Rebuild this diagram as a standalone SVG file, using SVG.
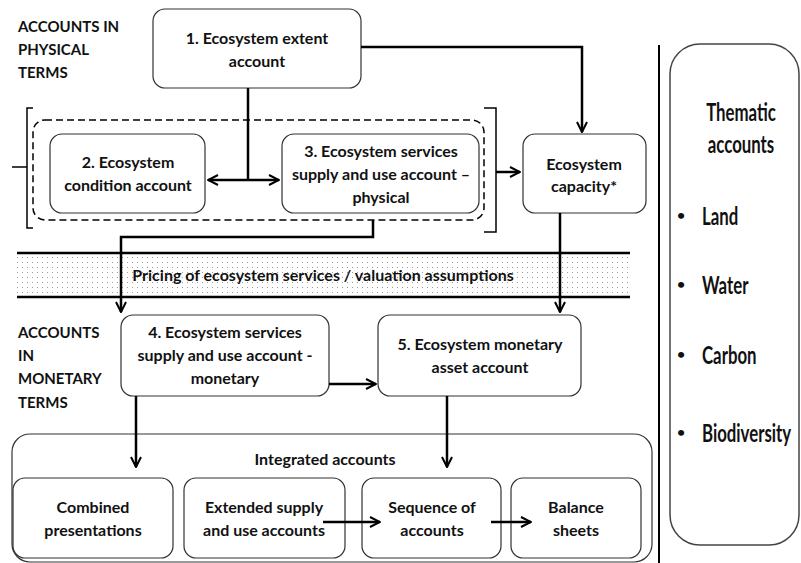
<svg xmlns="http://www.w3.org/2000/svg" width="801" height="563" viewBox="0 0 801 563">
<style>
text{font-family:Lato,"Open Sans","Liberation Sans",sans-serif;font-weight:bold;fill:#111;}
.t{font-size:16px;text-anchor:middle;}
.lbl{font-size:15px;}
.box{fill:#fff;stroke:#333;stroke-width:1.2;}
.c{fill:none;stroke:#000;stroke-width:2.5;}
.th{font-size:24px;font-weight:bold;}
.bu{font-size:14px;font-weight:bold;}
</style>
<defs>
<marker id="ah" viewBox="0 0 10 10" refX="9" refY="5" markerWidth="5" markerHeight="5" orient="auto-start-reverse" markerUnits="strokeWidth">
<path d="M1,1 L9,5 L1,9" fill="none" stroke="#000" stroke-width="1.6"/>
</marker>
<pattern id="dots" width="5" height="5" patternUnits="userSpaceOnUse">
<rect x="2" y="2" width="1" height="1" fill="#999"/>
</pattern>
</defs>

<g id="labels">
<text class="lbl" x="18" y="32">ACCOUNTS IN</text>
<text class="lbl" x="18" y="55">PHYSICAL</text>
<text class="lbl" x="18" y="78">TERMS</text>
<text class="lbl" x="18" y="338">ACCOUNTS</text>
<text class="lbl" x="18" y="361">IN</text>
<text class="lbl" x="18" y="384">MONETARY</text>
<text class="lbl" x="18" y="408">TERMS</text>
</g>

<g id="pricing-band">
<rect x="17" y="254" width="613" height="42" fill="url(#dots)"/>
<line x1="17" y1="253" x2="630" y2="253" stroke="#000" stroke-width="2.5"/>
<line x1="17" y1="297" x2="630" y2="297" stroke="#000" stroke-width="2.5"/>
<text class="t" x="323" y="281">Pricing of ecosystem services / valuation assumptions</text>
</g>

<g id="physical-group">
<rect x="33" y="120" width="451" height="100" rx="12" fill="none" stroke="#000" stroke-width="1.5" stroke-dasharray="7,4"/>
<path d="M33,108 H27 V228 H33 M27,167 H12" fill="none" stroke="#000" stroke-width="1.5"/>
<path d="M484,108 H496 V232 H484" fill="none" stroke="#000" stroke-width="1.5"/>
</g>

<g id="n1">
<rect class="box" x="153" y="9" width="208" height="79" rx="12"/>
<text class="t" x="257" y="44">1. Ecosystem extent</text>
<text class="t" x="257" y="67">account</text>
</g>
<g id="n2">
<rect class="box" x="50" y="134" width="155" height="79" rx="12"/>
<text class="t" x="128" y="168">2. Ecosystem</text>
<text class="t" x="128" y="191">condition account</text>
</g>
<g id="n3">
<rect class="box" x="282" y="134" width="197" height="79" rx="12"/>
<text class="t" x="381" y="157">3. Ecosystem services</text>
<text class="t" x="381" y="180">supply and use account –</text>
<text class="t" x="381" y="203">physical</text>
</g>
<g id="cap">
<rect class="box" x="523" y="134" width="123" height="79" rx="12"/>
<text class="t" x="584" y="170">Ecosystem</text>
<text class="t" x="584" y="192">capacity*</text>
</g>
<g id="n4">
<rect class="box" x="121" y="315" width="208" height="81" rx="12"/>
<text class="t" x="225" y="338">4. Ecosystem services</text>
<text class="t" x="225" y="361">supply and use account -</text>
<text class="t" x="225" y="384">monetary</text>
</g>
<g id="n5">
<rect class="box" x="378" y="315" width="203" height="81" rx="12"/>
<text class="t" x="480" y="350">5. Ecosystem monetary</text>
<text class="t" x="480" y="373">asset account</text>
</g>

<g id="integrated">
<rect class="box" x="12" y="434" width="640" height="128" rx="18"/>
<text class="t" x="325" y="465">Integrated accounts</text>
</g>
<g id="combined">
<rect class="box" x="13" y="478" width="160" height="80" rx="12"/>
<text class="t" x="93" y="513">Combined</text>
<text class="t" x="93" y="536">presentations</text>
</g>
<g id="extended">
<rect class="box" x="184" y="478" width="161" height="80" rx="12"/>
<text class="t" x="264" y="513">Extended supply</text>
<text class="t" x="264" y="536">and use accounts</text>
</g>
<g id="sequence">
<rect class="box" x="362" y="478" width="139" height="80" rx="12"/>
<text class="t" x="432" y="513">Sequence of</text>
<text class="t" x="432" y="536">accounts</text>
</g>
<g id="balance">
<rect class="box" x="511" y="478" width="130" height="80" rx="12"/>
<text class="t" x="576" y="513">Balance</text>
<text class="t" x="576" y="536">sheets</text>
</g>

<g id="thematic">
<line x1="659" y1="45" x2="659" y2="563" stroke="#000" stroke-width="2"/>
<rect x="670" y="44" width="129" height="501" rx="30" fill="#fff" stroke="#444" stroke-width="1.5"/>
<g transform="translate(741,0) scale(0.7,1)">
<text class="th" x="0" y="121" text-anchor="middle">Thematic</text>
<text class="th" x="0" y="153" text-anchor="middle">accounts</text>
</g>
<text class="bu" x="677" y="220">•</text>
<text class="bu" x="677" y="289">•</text>
<text class="bu" x="677" y="359">•</text>
<text class="bu" x="677" y="437">•</text>
<g transform="translate(702,0) scale(0.7,1)">
<text class="th" x="0" y="225">Land</text>
<text class="th" x="0" y="294">Water</text>
<text class="th" x="0" y="364">Carbon</text>
<text class="th" x="0" y="442">Biodiversity</text>
</g>
</g>

<g id="connectors">
<line class="c" x1="248" y1="88" x2="248" y2="180"/>
<line class="c" x1="208" y1="180" x2="279" y2="180" marker-start="url(#ah)" marker-end="url(#ah)"/>
<path class="c" d="M361,47 H582 V132" marker-end="url(#ah)"/>
<line class="c" x1="496" y1="172" x2="520" y2="172" marker-end="url(#ah)"/>
<path class="c" d="M373,220 V237 H121 V312" marker-end="url(#ah)"/>
<line class="c" x1="560" y1="213" x2="560" y2="312" marker-end="url(#ah)"/>
<line class="c" x1="329" y1="384" x2="376" y2="384" marker-end="url(#ah)"/>
<line class="c" x1="136" y1="396" x2="136" y2="467" marker-end="url(#ah)"/>
<line class="c" x1="447" y1="396" x2="447" y2="467" marker-end="url(#ah)"/>
<line class="c" x1="323" y1="522" x2="380" y2="522" marker-end="url(#ah)"/>
<line class="c" x1="491" y1="522" x2="531" y2="522" marker-end="url(#ah)"/>
</g>
</svg>
